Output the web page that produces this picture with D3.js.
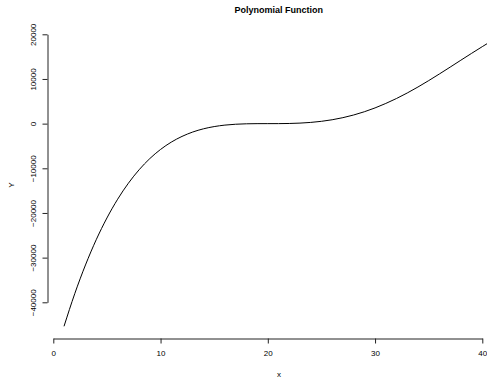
<!DOCTYPE html>
<html>
<head>
<meta charset="utf-8">
<script src="https://cdn.jsdelivr.net/npm/d3@7"></script>
<style>
  html, body { margin: 0; padding: 0; background: #fff; }
  svg text { font-family: "Liberation Sans", Arial, sans-serif; fill: #000; }
</style>
</head>
<body>
<svg id="chart" width="487" height="381"></svg>
<script>
// values
const xValues = [1, 2, 3, 4, 5, 6, 7, 8, 9, 10,
  11, 12, 13, 14, 15, 16, 17, 18, 19, 20,
  21, 22, 23, 24, 25, 26, 27, 28, 29, 30,
  31, 32, 33, 34, 35, 36, 37, 38, 39, 40, 41];
const yValues = [-45370, -38070, -31640, -26000, -21120, -16920, -13340, -10330, -7820, -5780,
  -4140, -2860, -1880, -1160, -660, -330, -136, -40, -5, 0,
  5, 36, 118, 272, 517, 868, 1336, 1930, 2660, 3520,
  4515, 5630, 6860, 8200, 9630, 11120, 12650, 14200, 15730, 17240, 18720];
const xTicks = [0, 10, 20, 30, 40];
const yTicks = [-40000, -30000, -20000, -10000, 0, 10000, 20000];

const title = 'Polynomial Function';
const xLabel = 'x';
const yLabel = 'Y';

const svg = d3.select('#chart');

const x = d3.scaleLinear().domain([0, 40]).range([53.3, 482.3]);
const y = d3.scaleLinear().domain([-40000, 20000]).range([302.3, 34.3]);

const points = xValues.map((v, i) => ({ x: v, y: yValues[i] }));

// curve
svg.append('path')
  .datum(points)
  .attr('fill', 'none')
  .attr('stroke', '#000')
  .attr('stroke-width', 1)
  .attr('d', d3.line()
    .x(d => x(d.x))
    .y(d => y(d.y))
    .curve(d3.curveMonotoneX));

// x axis
const gx = svg.append('g')
  .attr('transform', 'translate(0,338.5)')
  .call(d3.axisBottom(x)
    .tickValues(xTicks)
    .tickSize(5)
    .tickSizeOuter(0)
    .tickPadding(7)
    .tickFormat(d3.format('d')));
gx.selectAll('path, line').attr('stroke', '#222');
gx.selectAll('text').style('font-size', '8px').attr('fill', '#222');

// y axis
const gy = svg.append('g')
  .attr('transform', 'translate(47.5,0)')
  .call(d3.axisLeft(y)
    .tickValues(yTicks)
    .tickSize(5)
    .tickSizeOuter(0)
    .tickFormat(d3.format('d')));
gy.selectAll('path, line').attr('stroke', '#222');
gy.selectAll('text')
  .style('font-size', '8px')
  .attr('fill', '#222')
  .attr('text-anchor', 'middle')
  .attr('x', 0)
  .attr('dy', 0)
  .attr('transform', 'translate(-12,0) rotate(-90)');

// title and axis labels
svg.append('text')
  .attr('x', 278.7)
  .attr('y', 13)
  .attr('text-anchor', 'middle')
  .style('font-size', '9px')
  .style('font-weight', 'bold')
  .text(title);

svg.append('text')
  .attr('x', 279)
  .attr('y', 377)
  .attr('text-anchor', 'middle')
  .style('font-size', '8px')
  .attr('fill', '#222')
  .text(xLabel);

svg.append('text')
  .attr('transform', 'translate(14,185) rotate(-90)')
  .attr('text-anchor', 'middle')
  .style('font-size', '8px')
  .attr('fill', '#222')
  .text(yLabel);
</script>
</body>
</html>
